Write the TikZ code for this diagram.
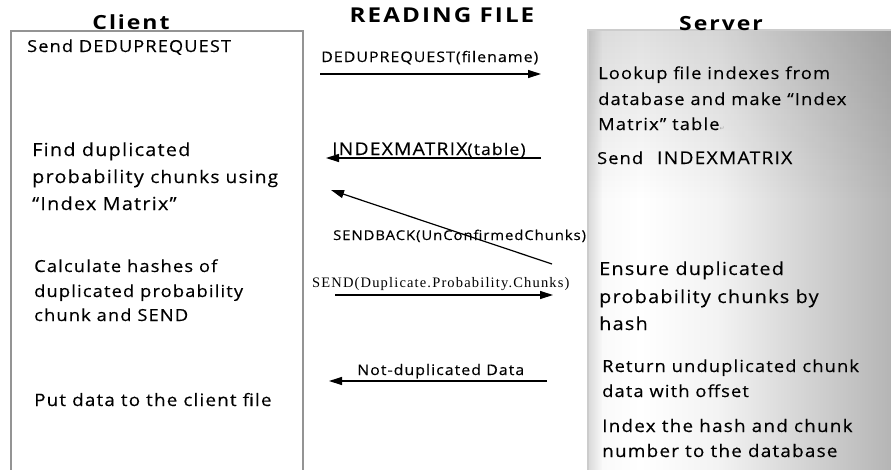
\documentclass[tikz,border=0pt]{standalone}
\usepackage{fontspec}
\setmainfont{Open Sans}[FakeStretch=1.1, LetterSpace=7, FakeBold=0.3]
\newfontfamily\titlefont{Open Sans}[FakeStretch=1.18, LetterSpace=10]
\newfontfamily\serifmsg{Liberation Serif}[LetterSpace=8]
\newfontfamily\symbfont{DejaVu Sans}
\usetikzlibrary{arrows.meta,fadings}

\tikzfading[name=topshade, top color=transparent!88, bottom color=transparent!100]

\tikzset{
  heading/.style={font=\titlefont\bfseries\fontsize{19.5}{19.5}\selectfont, inner sep=0pt, anchor=base},
  bigtxt/.style={font=\fontsize{18}{18}\selectfont, inner sep=0pt, anchor=base west},
  midtxt/.style={font=\fontsize{16.6}{16.6}\selectfont, inner sep=0pt, anchor=base west},
  smalltxt/.style={font=\fontsize{16.5}{16.5}\selectfont, inner sep=0pt, anchor=base west},
  msg/.style={font=\fontsize{14.5}{14.5}\selectfont, inner sep=0pt, anchor=base west},
  msgserif/.style={font=\serifmsg\fontsize{14.5}{14.5}\selectfont, inner sep=0pt, anchor=base west},
  flow/.style={line width=1.2pt, -{Triangle[length=13pt,width=8pt]}},
  boxline/.style={line width=1.5pt, draw=black!42}
}

\begin{document}
\begin{tikzpicture}[x=1pt,y=-1pt]
\useasboundingbox (0,0) rectangle (891,469);
\fill[white] (0,0) rectangle (891,469);

% server column: pale edge, white band, then darkening towards the right
\shade[left color=black!15, right color=black!2] (588,30) rectangle (602.5,470);
\shade[left color=black!2, right color=white] (602,30) rectangle (640.5,470);
\shade[left color=white, right color=black!5] (640,30) rectangle (720.5,470);
\shade[left color=black!5, right color=black!29] (720,30) rectangle (891,470);
\fill[black, path fading=topshade] (588,30) rectangle (891,200);
\draw[line width=1.5pt, draw=black!20] (588,470) -- (588,30) -- (892,30);

% client column
\draw[boxline] (11,470) -- (11,31) -- (303,31) -- (303,470);

% headings
\node[heading] (hclient) at (131,29) {Client};
\node[heading, font=\titlefont\bfseries\fontsize{20.5}{20.5}\selectfont] (htitle) at (442,22) {READING FILE};
\node[heading] (hserver) at (721,30) {Server};

% client steps
\node[smalltxt] (c1) at (27,52) {Send DEDUPREQUEST};
\node[bigtxt] (c2a) at (32,156) {Find duplicated};
\node[bigtxt] (c2b) at (32,183) {probability {\fontsize{17.3}{17.3}\selectfont chunks using}};
\node[bigtxt] (c2c) at (32,210) {“Index Matrix”};
\node[midtxt] (c3a) at (34,272) {Calculate hashes of};
\node[midtxt] (c3b) at (34,297) {duplicated probability};
\node[midtxt] (c3c) at (34,321) {chunk and SEND};
\node[midtxt, font=\fontsize{17.1}{17.1}\selectfont] (c4) at (34,406) {Put data to the client file};

% server steps
\node[midtxt] (s1a) at (598,79) {Lookup file indexes from};
\node[midtxt] (s1b) at (598,105) {database and make “Index};
\node[midtxt] (s1c) at (598,130) {Matrix” table{\symbfont\fontsize{6}{6}\selectfont\color{black!35}↵}};
\node[smalltxt] (s2) at (597,164) {Send\hspace{14pt}{\fontsize{17.5}{17.5}\selectfont INDEXMATRIX}};
\node[bigtxt] (s3a) at (599,275) {Ensure duplicated};
\node[bigtxt] (s3b) at (599,303) {probability chunks by};
\node[bigtxt] (s3c) at (599,330) {hash};
\node[midtxt] (s4a) at (602,372) {Return unduplicated chunk};
\node[midtxt] (s4b) at (602,397) {data with offset};
\node[midtxt, font=\fontsize{17.2}{17.2}\selectfont] (s5a) at (602,432) {Index the hash and chunk};
\node[midtxt, font=\fontsize{17.2}{17.2}\selectfont] (s5b) at (602,457) {number to the database};

% message end points
\coordinate (m1s) at (320,74);  \coordinate (m1e) at (541,74);
\coordinate (m2s) at (541,158); \coordinate (m2e) at (326,158);
\coordinate (m3s) at (552,264); \coordinate (m3e) at (331,190);
\coordinate (m4s) at (335,295); \coordinate (m4e) at (553,295);
\coordinate (m5s) at (547,381); \coordinate (m5e) at (329,381);

% messages
\draw[flow] (m1s) -- (m1e);
\draw[flow] (m2s) -- (m2e);
\draw[flow] (m3s) -- (m3e);
\draw[flow] (m4s) -- (m4e);
\draw[flow] (m5s) -- (m5e);

% message labels
\node[msg] (l1) at (321,62) {DEDUPREQUEST(filename)};
\node[msg] (l2) at (332,155) {{\fontsize{17.5}{17.5}\selectfont INDEXMATRIX}{\fontsize{16}{16}\selectfont(table)}};
\node[msg, font=\fontsize{13.5}{13.5}\selectfont] (l3) at (333,240) {SENDBACK(UnConfirmedChunks)};
\node[msgserif] (l4) at (312,287) {SEND(Duplicate.Probability.Chunks)};
\node[msg] (l5) at (357,375) {Not-duplicated Data};
\end{tikzpicture}
\end{document}
